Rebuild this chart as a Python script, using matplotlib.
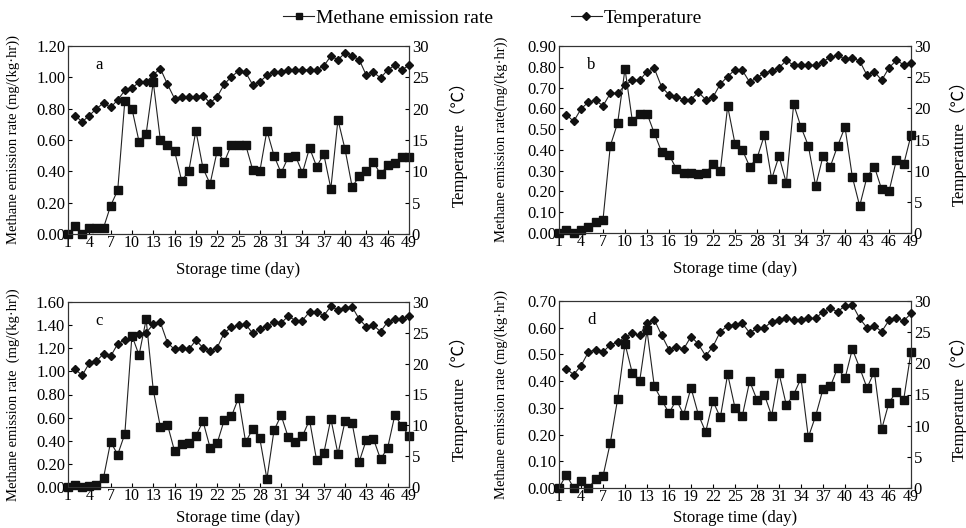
import numpy as np
import matplotlib
matplotlib.use('Agg')
import matplotlib.pyplot as plt
from matplotlib.lines import Line2D

plt.rcParams['font.family'] = ['Liberation Serif', 'Noto Sans CJK SC']
plt.rcParams['font.size'] = 12

days = np.arange(1, 50)
temp_days = np.arange(2, 50)
day_ticks = np.arange(1, 50, 3)

# methane emission rate, mg/(kg.hr)
methane_a = [0.00, 0.05, 0.00, 0.04, 0.04, 0.04, 0.18, 0.28, 0.85, 0.80, 0.59, 0.64, 0.97, 0.60, 0.57, 0.53, 0.34,
             0.40, 0.66, 0.42, 0.32, 0.53, 0.46, 0.57, 0.57, 0.57, 0.41, 0.40, 0.66, 0.50, 0.39, 0.49, 0.50, 0.39,
             0.55, 0.43, 0.51, 0.29, 0.73, 0.54, 0.30, 0.37, 0.40, 0.46, 0.38, 0.44, 0.45, 0.49, 0.49]
methane_b = [0.00, 0.013, 0.00, 0.016, 0.03, 0.054, 0.064, 0.42, 0.53, 0.79, 0.54, 0.575, 0.575, 0.48, 0.39, 0.376,
             0.31, 0.29, 0.29, 0.285, 0.29, 0.33, 0.30,
             0.61, 0.43, 0.40, 0.32, 0.36, 0.47, 0.26, 0.37, 0.24, 0.62, 0.51, 0.42, 0.225, 0.37, 0.32, 0.42, 0.51,
             0.27, 0.13, 0.27, 0.32, 0.21, 0.20, 0.35, 0.33, 0.47]
methane_c = [0.00, 0.02, 0.00, 0.01, 0.017, 0.08, 0.39, 0.28, 0.46, 1.31, 1.14, 1.45, 0.84, 0.52, 0.54, 0.31, 0.375,
             0.38, 0.44, 0.57, 0.34, 0.38, 0.58, 0.61, 0.77,
             0.39, 0.50, 0.42, 0.07, 0.49, 0.62, 0.43, 0.39, 0.44, 0.58, 0.23, 0.29, 0.59, 0.285, 0.57, 0.55, 0.22,
             0.41, 0.415, 0.24, 0.34, 0.62, 0.53, 0.44]
methane_d = [0.00, 0.05, 0.00, 0.025, 0.00, 0.033, 0.044, 0.17, 0.334, 0.54, 0.43, 0.40, 0.59, 0.38, 0.33, 0.28,
             0.33, 0.275, 0.375, 0.275,
             0.21, 0.325, 0.264, 0.426, 0.30, 0.27, 0.40, 0.33, 0.35, 0.27, 0.43, 0.31, 0.35, 0.41, 0.19, 0.27,
             0.37, 0.38, 0.45, 0.41, 0.52, 0.45, 0.375, 0.435, 0.22, 0.32, 0.36, 0.33, 0.51]

# temperature, deg C (from day 2)
temp_a = [18.9, 17.9, 18.9, 20.0, 20.9, 20.2, 21.4, 22.9, 23.3, 24.2, 24.2, 25.4, 26.4, 23.9, 21.6, 21.9, 21.9,
          21.9, 22.1, 20.9, 21.9, 23.9, 25.1, 26.0,
          25.8, 23.8, 24.3, 25.3, 25.8, 25.8, 26.2, 26.2, 26.2, 26.2, 26.2, 26.8, 28.4, 27.8, 28.9, 28.4, 27.8,
          25.3, 25.8, 24.9, 26.2, 26.9, 26.2, 26.9]
temp_b = [19.0, 17.9, 19.9, 21.0, 21.3, 20.4, 22.4, 22.4, 23.7, 24.5, 24.5, 25.9, 26.4, 23.4, 22.2, 21.8, 21.4,
          21.4, 22.6, 21.4, 21.8, 23.9,
          25.1, 26.2, 26.1, 24.2, 24.9, 25.7, 26.0, 26.5, 27.7, 26.9, 26.9, 26.9, 26.9, 27.5, 28.2, 28.5, 27.9,
          28.1, 27.6, 25.3, 25.9, 24.5, 26.5, 27.7, 27.0, 27.3]
temp_c = [19.1, 18.1, 20.1, 20.4, 21.6, 21.2, 23.2, 23.9, 24.3, 24.8, 25.0, 26.4, 26.7, 23.4, 22.3, 22.6, 22.3,
          23.8, 22.6, 22.0, 22.6, 25.0, 25.9, 26.2,
          26.4, 24.9, 25.6, 26.1, 26.7, 26.6, 27.7, 27.0, 27.0, 28.4, 28.4, 27.8, 29.3, 28.7, 29.1, 29.2, 27.2,
          26.0, 26.2, 25.2, 26.8, 27.2, 27.2, 27.7]
temp_d = [19.1, 18.2, 19.6, 21.8, 22.2, 21.8, 23.0, 23.4, 24.2, 24.8, 24.5, 26.5, 27.0, 24.5, 22.2, 22.7, 22.3,
          24.3, 23.1,
          21.2, 22.7, 25.1, 26.0, 26.2, 26.4, 24.9, 25.6, 25.7, 26.7, 26.9, 27.2, 26.9, 26.9, 27.2, 27.2, 28.3,
          28.8, 28.3, 29.2, 29.4, 27.2, 25.7, 26.0, 25.1, 26.9, 27.2, 26.8, 28.0]

panels = [
    ('a', methane_a, temp_a, 1.2, 0.2, 'Methane emission rate (mg/(kg\u00b7hr))',
     [68, 46, 409, 234], -0.141, 1.12, -0.149),
    ('b', methane_b, temp_b, 0.9, 0.1, 'Methane emission rate(mg/(kg\u00b7hr))',
     [559, 46, 911, 233], -0.145, 1.108, -0.149),
    ('c', methane_c, temp_c, 1.6, 0.2, 'Methane emission rate  (mg/(kg\u00b7hr))',
     [68, 302, 409, 487], -0.141, 1.12, -0.124),
    ('d', methane_d, temp_d, 0.7, 0.1, 'Methane emission rate (mg/(kg\u00b7hr))',
     [559, 301, 911, 488], -0.145, 1.108, -0.118),
]

W, H = 966, 528
fig = plt.figure(figsize=(W / 100, H / 100), dpi=100)

for letter, ch4, temp, ymax, ystep, ylab, box, lx, rx, xy in panels:
    x0, y0, x1, y1 = box
    ax = fig.add_axes([x0 / W, 1 - y1 / H, (x1 - x0) / W, (y1 - y0) / H])
    ax2 = ax.twinx()

    ax.plot(days, ch4, color='#222222', lw=0.8, marker='s', ms=5.5, mfc='#111111', mec='#111111',
            clip_on=False, zorder=3)
    ax2.plot(temp_days, temp, color='#222222', lw=0.8, marker='D', ms=3.8, mfc='#111111', mec='#111111',
             clip_on=False, zorder=3)

    ax.set_xlim(1, 49)
    ax.set_ylim(0, ymax)
    ax2.set_ylim(0, 30)
    ax.set_xticks(day_ticks)
    ax.set_yticks(np.arange(0, ymax + ystep / 2, ystep))
    ax.yaxis.set_major_formatter(plt.FormatStrFormatter('%.2f'))
    ax2.set_yticks(np.arange(0, 31, 5))

    ax.tick_params(direction='in', length=3, width=0.8, pad=2, labelsize=12)
    ax.tick_params(axis='x', pad=1, labelsize=11.5)
    ax2.tick_params(direction='in', length=3, width=0.8, pad=2, labelsize=12)
    for a in (ax, ax2):
        for s in a.spines.values():
            s.set_linewidth(0.8)
            s.set_color('#333333')

    ax.set_ylabel(ylab, fontsize=10.5)
    ax.yaxis.set_label_coords(lx, 0.5)
    ax2.set_ylabel('Temperature\uff08\u2103\uff09', fontsize=12)
    ax2.yaxis.set_label_coords(rx, 0.5)
    ax.set_xlabel('Storage time (day)', fontsize=12)
    ax.xaxis.set_label_coords(0.5, xy)

    ax.text(0.08, 0.94, letter, transform=ax.transAxes, fontsize=12, va='top', ha='left')

handles = [
    Line2D([], [], color='#222222', lw=0.8, marker='s', ms=5, mfc='#111111', mec='#111111'),
    Line2D([], [], color='#222222', lw=0.8, marker='D', ms=3.8, mfc='#111111', mec='#111111'),
]
fig.legend(handles, ['Methane emission rate', 'Temperature'], loc='center', bbox_to_anchor=(0.51, 0.966),
           ncol=2, frameon=False, fontsize=14, handlelength=1.6, handletextpad=0.1, columnspacing=4.0)

fig.savefig('out.png', dpi=100)
